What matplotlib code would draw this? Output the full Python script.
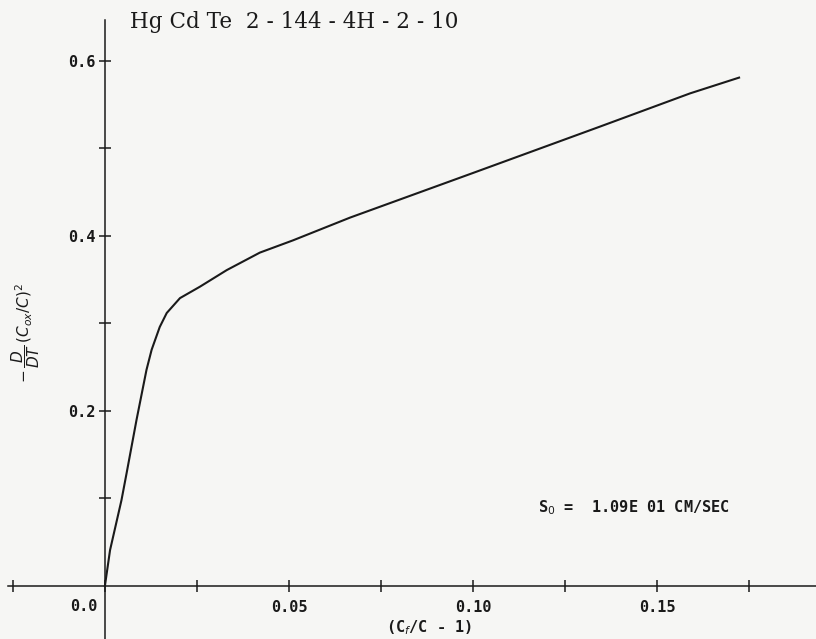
import matplotlib
matplotlib.use("Agg")
import matplotlib.pyplot as plt
import numpy as np

# values
cr_c = [0.0, 0.0014, 0.0045, 0.0059, 0.0086, 0.0113, 0.0127, 0.0149, 0.0168,
        0.0204, 0.0258, 0.0331, 0.0421, 0.0511, 0.0666, 0.1000, 0.1345, 0.1590, 0.1723]
dcdt = [0.0, 0.041, 0.098, 0.129, 0.190, 0.247, 0.270, 0.296, 0.312,
        0.329, 0.342, 0.361, 0.381, 0.395, 0.421, 0.472, 0.525, 0.563, 0.581]

xticks = [-0.025, 0.0, 0.025, 0.05, 0.075, 0.10, 0.125, 0.15, 0.175]
xlabels = ['', '', '', '0.05', '', '0.10', '', '0.15', '']
yticks = [0.1, 0.2, 0.3, 0.4, 0.5, 0.6]
ylabels = ['', '0.2', '', '0.4', '', '0.6']

ink = '#1a1a1a'
bg = '#f6f6f4'
mono = dict(family='DejaVu Sans Mono', weight='bold', size=11, color=ink)

fig = plt.figure(figsize=(8.16, 6.39), dpi=100, facecolor=bg)
ax = fig.add_axes([0, 0, 1, 1], facecolor=bg)

ax.plot(cr_c, dcdt, color=ink, lw=1.5)

ax.set_xlim(-0.0285, 0.1932)
ax.set_ylim(-0.0606, 0.6697)

for s in ['top', 'right']:
    ax.spines[s].set_visible(False)
ax.spines['left'].set_position(('data', 0))
ax.spines['bottom'].set_position(('data', 0))
ax.spines['left'].set_bounds(-0.0606, 0.647)
ax.spines['bottom'].set_bounds(-0.0264, 0.1932)
for s in ['left', 'bottom']:
    ax.spines[s].set_color(ink)
    ax.spines[s].set_linewidth(1.1)

ax.set_xticks(xticks)
ax.set_xticklabels(xlabels, fontdict=mono)
ax.set_yticks(yticks)
ax.set_yticklabels(ylabels, fontdict=mono)
ax.tick_params(axis='x', direction='inout', length=8, width=1.1, color=ink, pad=6)
ax.tick_params(axis='y', direction='inout', length=8, width=1.1, color=ink, pad=3)

ax.text(-0.0057, -0.024, '0.0', ha='center', va='center', **mono)

fig.text(130 / 816, 1 - 22 / 639, 'Hg Cd Te  2 - 144 - 4H - 2 - 10',
         family='DejaVu Serif', size=15.5, color=ink, ha='left', va='center')
fig.text(26 / 816, 1 - 333 / 639, r'$-\,\dfrac{D}{DT}\,(C_{ox}/C)^2$',
         rotation=90, size=11, color=ink, ha='center', va='center')
fig.text(429 / 816, 1 - 628 / 639, '(C$_f$/C - 1)',
         ha='center', va='center', **mono)
fig.text(538 / 816, 1 - 508 / 639, 'S$_0$ =  1.09E 01 CM/SEC',
         ha='left', va='center', **mono)

fig.savefig('out.png', dpi=100, facecolor=bg)
